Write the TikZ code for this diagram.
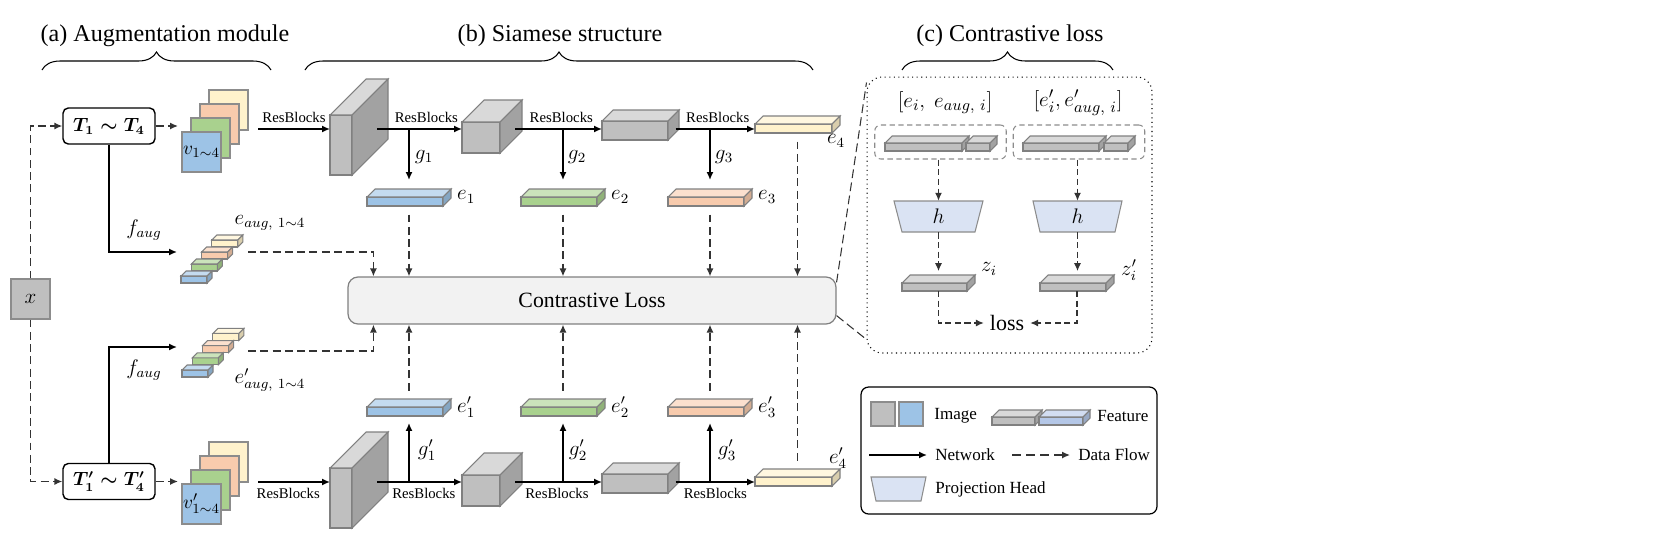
\documentclass[tikz,border=0pt]{standalone}
\usepackage{amsmath}
\usepackage{fontspec}
\setmainfont{Liberation Serif}
\usepackage{xcolor}
\usetikzlibrary{positioning,calc,arrows.meta,decorations.pathreplacing}

\definecolor{cblue}{HTML}{9DC3E6}
\definecolor{cgreen}{HTML}{A9D18E}
\definecolor{corange}{HTML}{F8CBAD}
\definecolor{cyellow}{HTML}{FFF2CC}
\definecolor{cgray}{HTML}{BFBFBF}
\definecolor{clight}{HTML}{F2F2F2}
\definecolor{chead}{HTML}{DAE3F3}
\definecolor{cfeat}{HTML}{B4C7E7}

% name, x, y (front top left), width, height, depth, colour, y of the arrow through it
\newcommand{\cuboid}[8]{%
	\filldraw[blockline, fill=#7] (#2,#3) rectangle ({#2+#4},{#3+#5});
	\filldraw[blockline, fill=#7!60!white] (#2,#3) -- ({#2+#6},{#3-#6}) -- ({#2+#4+#6},{#3-#6}) -- ({#2+#4},#3) -- cycle;
	\filldraw[blockline, fill=#7!85!black] ({#2+#4},#3) -- ({#2+#4+#6},{#3-#6}) -- ({#2+#4+#6},{#3+#5-#6}) -- ({#2+#4},{#3+#5}) -- cycle;
	\coordinate (#1-in) at (#2,#8);
	\coordinate (#1-out) at ({#2+#4+0.7*#6},#8);
	\coordinate (#1-n) at ({#2+(#4+#6)/2},{#3-#6});
	\coordinate (#1-s) at ({#2+(#4+#6)/2},{#3+#5});
	\coordinate (#1-e) at ({#2+#4+#6},#3);
}

\begin{document}
\begin{tikzpicture}[x=0.02cm, y=-0.02cm, >={Latex[length=4.5pt,width=4pt]},
	net/.style={->, line width=0.9pt},
	flow/.style={->, line width=0.8pt, black!80, dash pattern=on 4.5pt off 2.5pt},
	thinflow/.style={->, line width=0.6pt, black!80, dash pattern=on 3.5pt off 2pt},
	zoomline/.style={line width=0.6pt, black!80, dash pattern=on 5pt off 2.5pt},
	blockline/.style={draw=black!50, line width=0.6pt},
	imgline/.style={draw=black!45, line width=0.6pt},
	headshape/.style={draw=black!45, fill=chead, line width=0.6pt},
	heading/.style={font=\fontsize{13.7}{16}\selectfont},
	brace/.style={decorate, decoration={brace, amplitude=0.36cm}, line width=0.6pt},
	rb/.style={font=\fontsize{8.4}{10}\selectfont},
	lbl/.style={font=\fontsize{12}{14}\selectfont},
	legtext/.style={font=\fontsize{9.7}{11}\selectfont, anchor=west, inner sep=0pt},
	tbox/.style={draw, rounded corners=3pt, line width=0.8pt, minimum width=1.84cm, minimum height=0.72cm, font=\fontsize{10.5}{12}\selectfont},
	imgbox/.style={imgline, fill=cgray, minimum width=0.78cm, minimum height=0.8cm, font=\fontsize{13}{15}\selectfont},
	lossbox/.style={draw=black!50, fill=clight, line width=0.7pt, rounded corners=0.2cm, minimum width=9.76cm, minimum height=0.94cm, font=\fontsize{12.4}{14}\selectfont},
	panel/.style={draw, dotted, line width=0.6pt, rounded corners=0.3cm, minimum width=5.7cm, minimum height=5.52cm},
	grp/.style={draw=black!45, line width=0.6pt, dash pattern=on 3pt off 2pt, rounded corners=0.12cm, minimum width=2.63cm, minimum height=0.68cm},
	hlbl/.style={minimum height=0.62cm, inner sep=0pt, font=\fontsize{13}{15}\selectfont},
	sq/.style={imgline, minimum size=0.48cm, inner sep=0pt},
	legendbox/.style={draw, line width=0.7pt, rounded corners=0.15cm, minimum width=5.92cm, minimum height=2.54cm}]
	\useasboundingbox (0,0) rectangle (1678,545);

	% titles and braces
	\node[heading] (ta) at (165,36) {(a) Augmentation module};
	\node[heading] (tb) at (560,36) {(b) Siamese structure};
	\node[heading] (tc) at (1010,36) {(c) Contrastive loss};
	\draw[brace] (42,70) -- (271,70);
	\draw[brace] (305,70) -- (813,70);
	\draw[brace] (902,70) -- (1113,70);

	% augmentation module
	\node[imgbox] (x) at (30.5,299) {$x$};
	\node[tbox] (T) at (109,126) {$\boldsymbol{T_1 \sim T_4}$};
	\node[tbox] (Tb) at (109,481.5) {$\boldsymbol{T'_1 \sim T'_4}$};
	\draw[flow] (x.north) |- (T.west);
	\draw[flow] (x.south) |- (Tb.west);

	\foreach \c/\i in {cyellow/3,corange/2,cgreen/1,cblue/0} {
		\filldraw[imgline, fill=\c] ({182+9*\i},{132-14*\i}) rectangle +(39,40);
		\filldraw[imgline, fill=\c] ({182+9*\i},{484-14*\i}) rectangle +(39,40);
	}
	\node[lbl, font=\fontsize{11}{13}\selectfont] (v) at (201.5,152) {$v_{1\sim4}$};
	\node[lbl, font=\fontsize{11}{13}\selectfont] (vb) at (201.5,504) {$v'_{1\sim4}$};
	\coordinate (v-in) at (178,126);
	\coordinate (vb-in) at (178,481.5);
	\coordinate (v-out) at (258,129);
	\coordinate (vb-out) at (258,482);
	\draw[flow] (T.east) -- (v-in);
	\draw[flow] (Tb.east) -- (vb-in);

	\foreach \c/\i in {cyellow/3,corange/2,cgreen/1,cblue/0} {
		\cuboid{ea\i}{181+10.3*\i}{276-12*\i}{26}{7}{5}{\c}{0}
		\cuboid{eb\i}{182+10.3*\i}{370-12.2*\i}{26}{7}{5}{\c}{0}
	}
	\coordinate (aug-in) at (177,252);
	\coordinate (aug-out) at (248,252);
	\coordinate (aug2-in) at (177,347);
	\coordinate (aug2-out) at (248,351);
	\draw[net] (T.south) |- (aug-in);
	\draw[net] (Tb.north) |- (aug2-in);
	\node[lbl] (lf1) at (144,230) {$f_{aug}$};
	\node[lbl] (lf2) at (144,370) {$f_{aug}$};
	\node[lbl] (lea) at (270,223) {$e_{aug,\ 1\sim4}$};
	\node[lbl] (leb) at (270,380) {$e'_{aug,\ 1\sim4}$};

	% siamese structure
	\cuboid{b1}{330}{115}{22}{60}{36}{cgray}{129}
	\cuboid{b2}{462}{122}{38}{31}{22}{cgray}{129}
	\cuboid{b3}{602}{121}{66}{19}{11}{cgray}{129}
	\cuboid{e4}{755}{124}{77}{9}{8}{cyellow}{129}
	\cuboid{b1b}{330}{468}{22}{60}{36}{cgray}{482}
	\cuboid{b2b}{462}{475}{38}{31}{22}{cgray}{482}
	\cuboid{b3b}{602}{474}{66}{19}{11}{cgray}{482}
	\cuboid{e4b}{755}{477}{77}{9}{8}{cyellow}{482}
	\cuboid{e1}{367}{197}{76}{9}{8}{cblue}{201}
	\cuboid{e2}{521}{197}{76}{9}{8}{cgreen}{201}
	\cuboid{e3}{668}{197}{76}{9}{8}{corange}{201}
	\cuboid{e1b}{367}{407}{76}{9}{8}{cblue}{411}
	\cuboid{e2b}{521}{407}{76}{9}{8}{cgreen}{411}
	\cuboid{e3b}{668}{407}{76}{9}{8}{corange}{411}

	\draw[net] (v-out) -- node[rb, above] (rb0) {ResBlocks} (b1-in);
	\draw[net] (b1-out) -- node[rb, above, pos=0.58] (rb1) {ResBlocks} (b2-in);
	\draw[net] (b2-out) -- node[rb, above, pos=0.53] (rb2) {ResBlocks} (b3-in);
	\draw[net] (b3-out) -- node[rb, above, pos=0.53] (rb3) {ResBlocks} (e4-in);
	\draw[net] (vb-out) -- node[rb, below, pos=0.42] (rb4) {ResBlocks} (b1b-in);
	\draw[net] (b1b-out) -- node[rb, below, pos=0.55] (rb5) {ResBlocks} (b2b-in);
	\draw[net] (b2b-out) -- node[rb, below, pos=0.48] (rb6) {ResBlocks} (b3b-in);
	\draw[net] (b3b-out) -- node[rb, below, pos=0.5] (rb7) {ResBlocks} (e4b-in);

	\draw[net, shorten >=0.18cm] (e1-n |- b1-out) -- (e1-n);
	\draw[net, shorten >=0.18cm] (e2-n |- b2-out) -- (e2-n);
	\draw[net, shorten >=0.18cm] (e3-n |- b3-out) -- (e3-n);
	\draw[net, shorten >=0.14cm] (e1b-s |- b1b-out) -- (e1b-s);
	\draw[net, shorten >=0.14cm] (e2b-s |- b2b-out) -- (e2b-s);
	\draw[net, shorten >=0.14cm] (e3b-s |- b3b-out) -- (e3b-s);
	\node[lbl] (lg1) at (424,157) {$g_1$};
	\node[lbl] (lg2) at (577,157) {$g_2$};
	\node[lbl] (lg3) at (724,157) {$g_3$};
	\node[lbl] (lg1b) at (427,450) {$g'_1$};
	\node[lbl] (lg2b) at (578,450) {$g'_2$};
	\node[lbl] (lg3b) at (727,450) {$g'_3$};
	\node[lbl, anchor=west] (le1) at (e1-e) {$e_1$};
	\node[lbl, anchor=west] (le2) at (e2-e) {$e_2$};
	\node[lbl, anchor=west] (le3) at (e3-e) {$e_3$};
	\node[lbl] (le4) at (836,141) {$e_4$};
	\node[lbl, anchor=west] (le1b) at (e1b-e) {$e'_1$};
	\node[lbl, anchor=west] (le2b) at (e2b-e) {$e'_2$};
	\node[lbl, anchor=west] (le3b) at (e3b-e) {$e'_3$};
	\node[lbl] (le4b) at (838,458) {$e'_4$};

	\node[lossbox] (loss) at (592,300.5) {Contrastive Loss};
	\draw[flow] (aug-out) -| ([xshift=0.52cm]loss.north west);
	\draw[flow] (aug2-out) -| ([xshift=0.52cm]loss.south west);
	\foreach \e in {e1,e2,e3,e4}
		\draw[flow, shorten <=0.17cm] (\e-s) -- (\e-s |- loss.north);
	\foreach \e in {e1b,e2b,e3b,e4b}
		\draw[flow, shorten <=0.17cm] (\e-n) -- (\e-n |- loss.south);

	% contrastive loss
	\node[panel] (panel) at (1009.5,215) {};
	\draw[zoomline] ([yshift=-0.12cm]loss.north east) -- ([yshift=-0.12cm]panel.north west);
	\draw[zoomline] ([yshift=0.18cm]loss.south east) -- ([yshift=0.28cm]panel.south west);
	\node[lbl, font=\fontsize{12.5}{15}\selectfont] (lab1) at (945,103) {$[e_i,\ e_{aug,\ i}]$};
	\node[lbl, font=\fontsize{12.5}{15}\selectfont] (lab2) at (1078,103) {$[e'_i, e'_{aug,\ i}]$};
	\node[grp] (grpa) at (940.5,142) {};
	\node[grp] (grpb) at (1079,142) {};
	\cuboid{ca}{885}{143}{77}{8}{7}{cgray}{147}
	\cuboid{cb}{966}{143}{24}{8}{7}{cgray}{147}
	\cuboid{cc}{1023}{143}{76}{8}{7}{cgray}{147}
	\cuboid{cd}{1104}{143}{24}{8}{7}{cgray}{147}
	\draw[headshape] (894,201) -- (983,201) -- (975,232) -- (902,232) -- cycle;
	\draw[headshape] (1033,201) -- (1122,201) -- (1115,232) -- (1040,232) -- cycle;
	\node[hlbl] (h1) at (938.5,216.5) {$h$};
	\node[hlbl] (h2) at (1077.5,216.5) {$h$};
	\cuboid{za}{902}{283}{65}{8}{8}{cgray}{287}
	\cuboid{zb}{1040}{283}{66}{8}{8}{cgray}{287}
	\node[lbl] (lz1) at (989,269) {$z_i$};
	\node[lbl] (lz2) at (1129,270) {$z'_i$};
	\draw[thinflow] (h1.north |- grpa.south) -- (h1.north);
	\draw[thinflow] (h2.north |- grpb.south) -- (h2.north);
	\draw[thinflow, shorten >=0.08cm] (h1.south) -- (h1.south |- za-n);
	\draw[thinflow, shorten >=0.08cm] (h2.south) -- (h2.south |- zb-n);
	\node[font=\fontsize{12.5}{14}\selectfont] (lossl) at (1007,323) {loss};
	\draw[thinflow] (za-s) |- (lossl.west);
	\draw[thinflow] (zb-s) |- (lossl.east);

	% legend
	\node[legendbox] (legend) at (1009,450.5) {};
	\node[sq, fill=cgray] (sqa) at (883,414) {};
	\node[sq, fill=cblue] (sqb) at (911,414) {};
	\node[legtext] (limg) at (934,416) {Image};
	\cuboid{fa}{992}{417}{43}{8}{7}{cgray}{421}
	\cuboid{fb}{1039}{417}{44}{8}{7}{cfeat}{421}
	\node[legtext] (lfeat) at (1097,416) {Feature};
	\coordinate (na) at (869,455);
	\coordinate (nb) at (927,455);
	\coordinate (fa) at (1012,455);
	\coordinate (fb) at (1070,455);
	\draw[net] (na) -- (nb);
	\draw[flow, dash pattern=on 5pt off 3pt] (fa) -- (fb);
	\node[legtext] (lnet) at (935,455) {Network};
	\node[legtext] (lflow) at (1078,455) {Data Flow};
	\draw[headshape] (871,477) -- (926,477) -- (921,501) -- (876,501) -- cycle;
	\node[legtext] (lhead) at (935,489) {Projection Head};

\end{tikzpicture}
\end{document}
